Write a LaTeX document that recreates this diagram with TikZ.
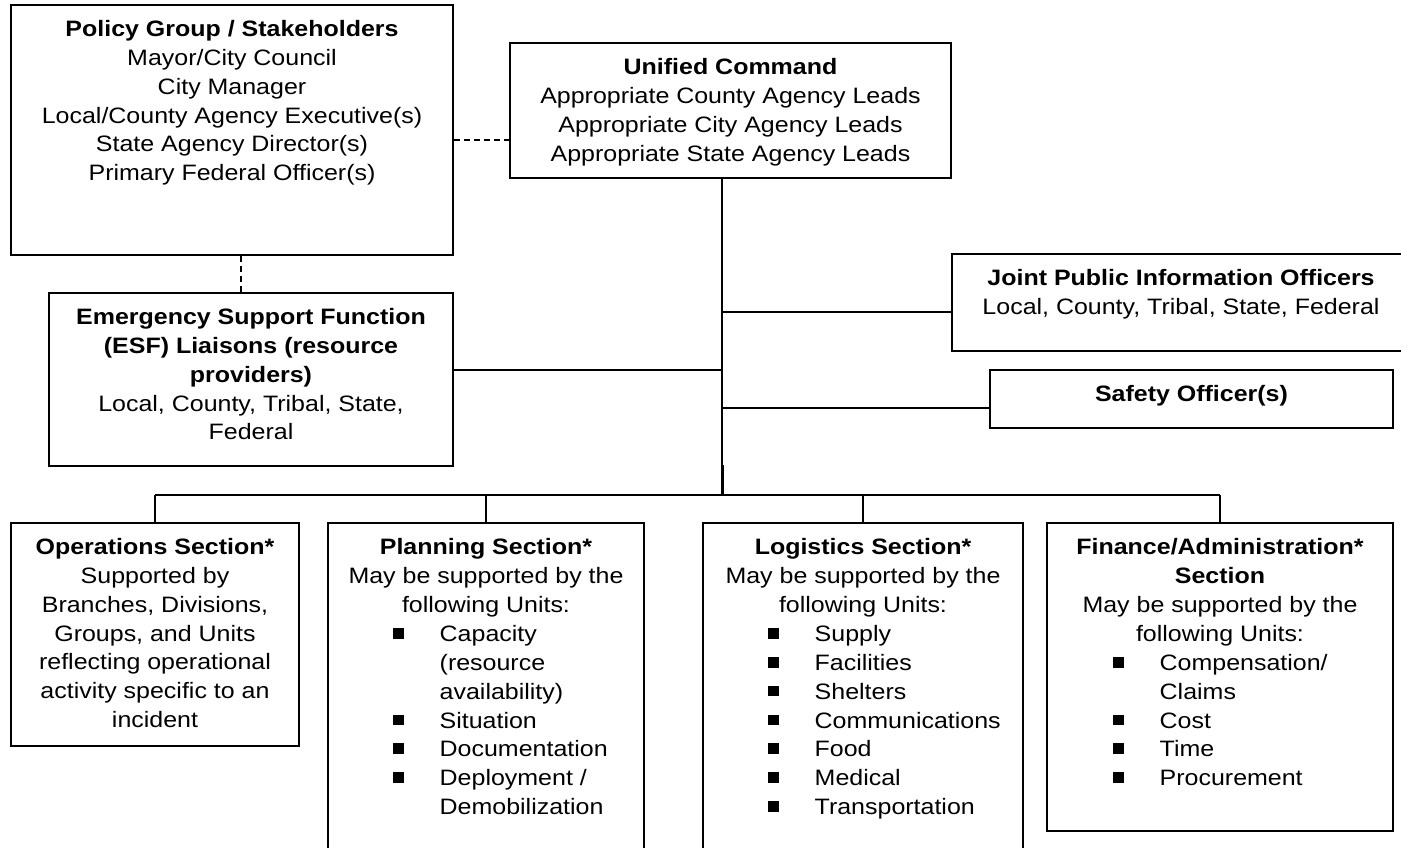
\documentclass[tikz,border=0pt]{standalone}
\usepackage{fontspec}
\setmainfont{Liberation Sans}[FakeStretch=1.12]
\usetikzlibrary{calc}
\newcommand\bul{\rule[3pt]{10.5pt}{10.5pt}}
\begin{document}
\begin{tikzpicture}[x=1pt,y=-1pt,
  frame/.style={draw, line width=1.5pt, inner sep=0pt},
  txt/.style={anchor=north, align=center, inner sep=0pt, font=\fontsize{22.3}{28.8}\selectfont},
  lst/.style={anchor=north west, inner sep=0pt, font=\fontsize{22.3}{28.8}\selectfont},
  conn/.style={line width=1.5pt},
  dashconn/.style={line width=1.5pt, dash pattern=on 6pt off 4pt}]
\useasboundingbox (0,0) rectangle (1401,848);
\fill[white] (0,0) rectangle (1401,848);

% boxes
\node[frame, minimum width=442pt, minimum height=250pt] (pol) at (232,130) {};
\node[frame, minimum width=441pt, minimum height=135pt] (uc) at (730.5,110.5) {};
\node[frame, minimum width=458pt, minimum height=97pt] (jpio) at (1181,302.5) {};
\node[frame, minimum width=403pt, minimum height=58pt] (saf) at (1191.5,399) {};
\node[frame, minimum width=404pt, minimum height=173pt] (esf) at (251,379.5) {};
\node[frame, minimum width=288pt, minimum height=223pt] (ops) at (155,634.5) {};
\node[frame, minimum width=316pt, minimum height=357pt] (plan) at (486,701.5) {};
\node[frame, minimum width=320pt, minimum height=357pt] (log) at (863,701.5) {};
\node[frame, minimum width=346pt, minimum height=308pt] (fin) at (1220,677) {};

% texts
\node[txt] (polt) at ([yshift=-12pt]pol.north) {\strut\textbf{Policy Group / Stakeholders}\\Mayor/City Council\\City Manager\\Local/County Agency Executive(s)\\State Agency Director(s)\\Primary Federal Officer(s)};
\node[txt] (uct) at ([yshift=-12pt]uc.north) {\strut\textbf{Unified Command}\\Appropriate County Agency Leads\\Appropriate City Agency Leads\\Appropriate State Agency Leads};
\node[txt] (jpiot) at ([yshift=-12pt]jpio.north) {\strut\textbf{Joint Public Information Officers}\\Local, County, Tribal, State, Federal};
\node[txt] (saft) at ([yshift=-12pt]saf.north) {\strut\textbf{Safety Officer(s)}};
\node[txt] (esft) at ([yshift=-12pt]esf.north) {\strut\textbf{Emergency Support Function}\\\textbf{(ESF) Liaisons (resource}\\\textbf{providers)}\\Local, County, Tribal, State,\\Federal};
\node[txt] (opst) at ([yshift=-12pt]ops.north) {\strut\textbf{Operations Section*}\\Supported by\\Branches, Divisions,\\Groups, and Units\\reflecting operational\\activity specific to an\\incident};
\node[txt] (plant) at ([yshift=-12pt]plan.north) {\strut\textbf{Planning Section*}\\May be supported by the\\following Units:};
\node[txt] (logt) at ([yshift=-12pt]log.north) {\strut\textbf{Logistics Section*}\\May be supported by the\\following Units:};
\node[txt] (fint) at ([yshift=-12pt]fin.north) {\strut\textbf{Finance/Administration*}\\\textbf{Section}\\May be supported by the\\following Units:};

\node[lst] (planl) at (393,621.4) {\begin{tabular}{@{}l@{\hspace{36pt}}l@{}}
\bul & Capacity\\ & (resource\\ & availability)\\ \bul & Situation\\ \bul & Documentation\\ \bul & Deployment /\\ & Demobilization\end{tabular}};
\node[lst] (logl) at (768,621.4) {\begin{tabular}{@{}l@{\hspace{36pt}}l@{}}
\bul & Supply\\ \bul & Facilities\\ \bul & Shelters\\ \bul & Communications\\ \bul & Food\\ \bul & Medical\\ \bul & Transportation\end{tabular}};
\node[lst] (finl) at (1113,650.2) {\begin{tabular}{@{}l@{\hspace{36pt}}l@{}}
\bul & Compensation/\\ & Claims\\ \bul & Cost\\ \bul & Time\\ \bul & Procurement\end{tabular}};

% connectors
\coordinate (xt) at (722,0);
\coordinate (bus) at (0,495);
\coordinate (yj) at (0,312);
\coordinate (ye) at (0,370);
\coordinate (ys) at (0,408);
\coordinate (yd) at (0,140);
\coordinate (xd) at (241,0);
\coordinate (yk) at (0,465);

\draw[dashconn] (yd -| pol.east) -- (yd -| uc.west);
\draw[dashconn] (pol.south -| xd) -- (esf.north -| xd);
\draw[conn] (uc.south -| xt) -- (bus -| xt);
\draw[line width=3pt] (yk -| xt) -- (bus -| xt);
\draw[conn] (yj -| xt) -- (yj -| jpio.west);
\draw[conn] (ye -| esf.east) -- (ye -| xt);
\draw[conn] (ys -| xt) -- (ys -| saf.west);
\draw[conn] (bus -| ops.north) -- (bus -| fin.north);
\draw[conn] (bus -| ops.north) -- (ops.north);
\draw[conn] (bus -| plan.north) -- (plan.north);
\draw[conn] (bus -| log.north) -- (log.north);
\draw[conn] (bus -| fin.north) -- (fin.north);
\end{tikzpicture}
\end{document}
